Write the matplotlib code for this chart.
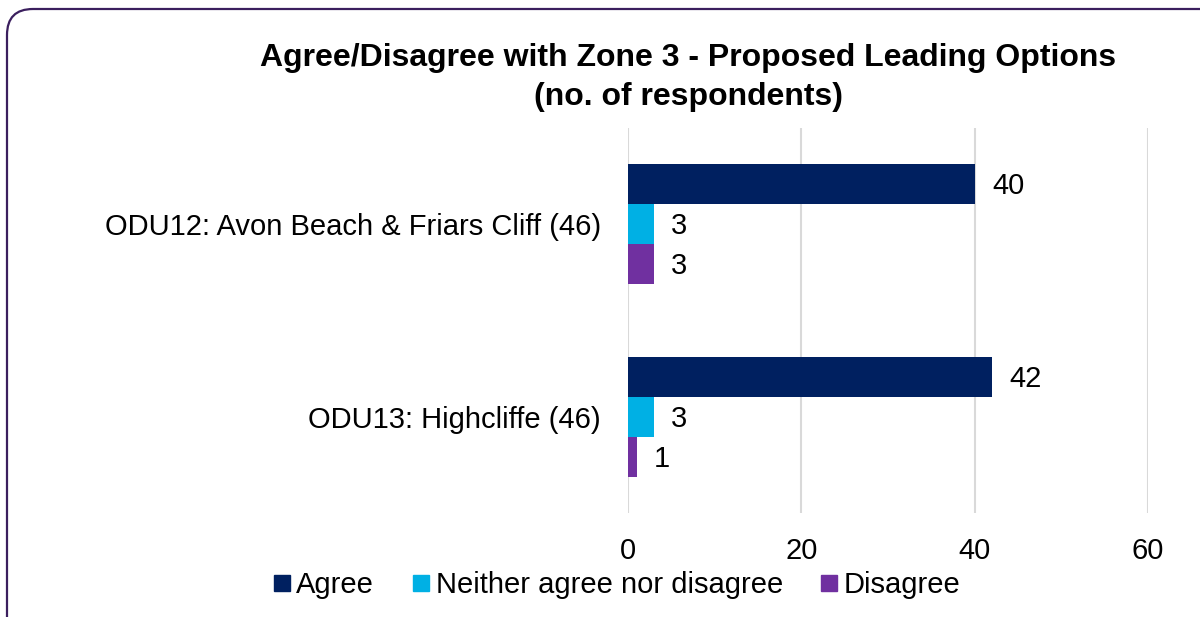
import matplotlib.pyplot as plt
from matplotlib.patches import FancyBboxPatch
from matplotlib.lines import Line2D

plt.rcParams['font.family'] = ['Liberation Sans', 'DejaVu Sans']

categories = ['ODU12: Avon Beach & Friars Cliff (46)', 'ODU13: Highcliffe (46)']
series = ['Agree', 'Neither agree nor disagree', 'Disagree']
agree = [40, 42]
neither = [3, 3]
disagree = [3, 1]
colors = ['#002060', '#00B0E4', '#7030A0']

W, H = 1200, 617
fig = plt.figure(figsize=(W / 100, H / 100), dpi=100)
ax = fig.add_axes([628 / W, 1 - 513 / H, 520 / W, 385 / H])

# rounded frame around the whole chart (runs off the right and bottom edges)
frame = FancyBboxPatch((7 / W, -0.2), 1.2, 1.2 - 9 / H,
                       boxstyle='round,pad=0,rounding_size=%f' % (26 / W),
                       transform=fig.transFigure, facecolor='none',
                       edgecolor='#3B1F5E', linewidth=1.6, mutation_aspect=W / H)
fig.patches.append(frame)

h = 0.207
pos = [1, 0]  # ODU12 on top
for i, (vals, name, c) in enumerate(zip([agree, neither, disagree], series, colors)):
    ys = [p + h - i * h for p in pos]
    ax.barh(ys, vals, height=h, color=c, label=name, zorder=3)
    for y, v in zip(ys, vals):
        ax.text(v + 2, y - 0.01, str(v), va='center', ha='left', fontsize=21)

ax.set_xlim(0, 60)
ax.set_ylim(-0.5, 1.5)
ax.set_xticks([0, 20, 40, 60])
ax.set_yticks(pos)
ax.set_yticklabels(categories)
ax.tick_params(axis='both', length=0, labelsize=21)
ax.tick_params(axis='x', pad=17)
ax.tick_params(axis='y', pad=19.5)
ax.grid(axis='x', color='#D9D9D9', linewidth=1.5, zorder=0)
for s in ax.spines.values():
    s.set_visible(False)

fig.text(688 / W, 1 - 58 / H, 'Agree/Disagree with Zone 3 - Proposed Leading Options',
         ha='center', va='center', fontsize=23, fontweight='bold')
fig.text(688 / W, 1 - 97 / H, '(no. of respondents)',
         ha='center', va='center', fontsize=23, fontweight='bold')

handles = [Line2D([], [], marker='s', linestyle='none', markersize=11, color=c) for c in colors]
fig.legend(handles, series, loc='center', bbox_to_anchor=(614 / W, 1 - 585 / H),
           ncol=3, frameon=False, fontsize=21, handletextpad=0.0, columnspacing=1.1,
           handlelength=1.0)

fig.savefig('out.png', dpi=100)
